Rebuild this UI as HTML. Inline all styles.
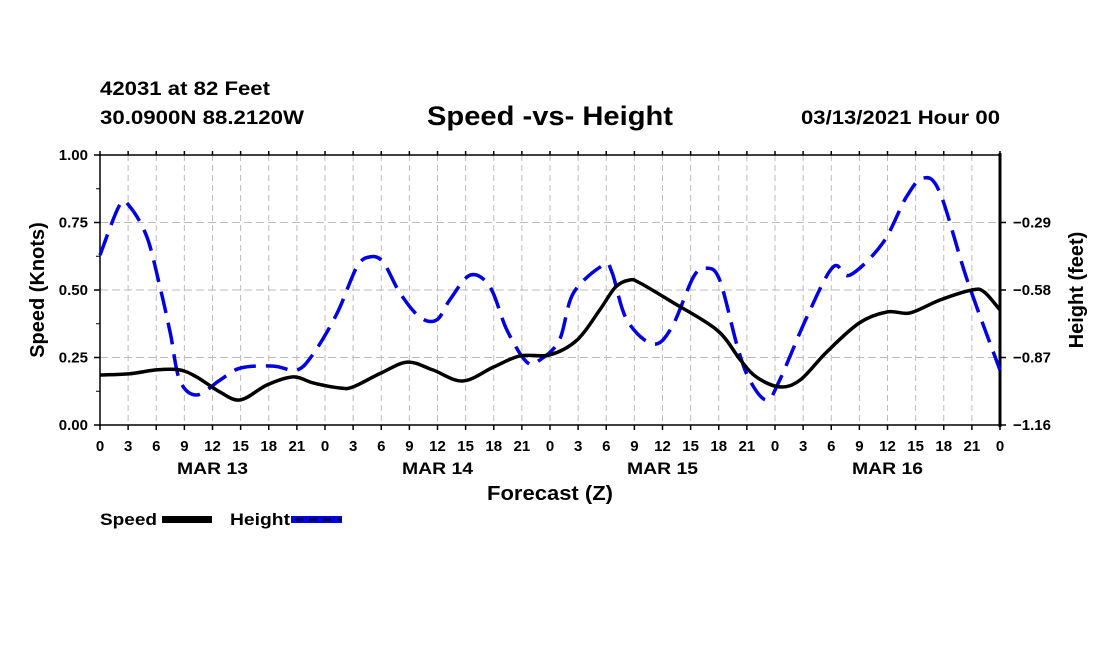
<!DOCTYPE html>
<html><head><meta charset="utf-8"><style>
body{margin:0;background:#fff;}
svg text{font-family:"Liberation Sans",sans-serif;font-weight:bold;fill:#000;}
</style></head><body>
<svg id="chart" width="1100" height="650" viewBox="0 0 1100 650" xmlns="http://www.w3.org/2000/svg">
<rect width="1100" height="650" fill="#fff"/>
<text x="100" y="95" font-size="19" textLength="170" lengthAdjust="spacingAndGlyphs">42031 at 82 Feet</text>
<text x="100" y="124" font-size="19" textLength="204" lengthAdjust="spacingAndGlyphs">30.0900N 88.2120W</text>
<text x="427" y="125" font-size="27" textLength="246" lengthAdjust="spacingAndGlyphs">Speed -vs- Height</text>
<text x="801" y="124" font-size="19" textLength="199" lengthAdjust="spacingAndGlyphs">03/13/2021 Hour 00</text>
<g id="grid"></g>
<g id="axes"></g>
<g id="series"></g>
<text x="487" y="500" font-size="20" textLength="126" lengthAdjust="spacingAndGlyphs">Forecast (Z)</text>
<text transform="translate(44,290) rotate(-90)" font-size="20" text-anchor="middle">Speed (Knots)</text>
<text transform="translate(1083,290) rotate(-90)" font-size="20" text-anchor="middle">Height (feet)</text>
<g>
<text x="100" y="525" font-size="17" textLength="57" lengthAdjust="spacingAndGlyphs">Speed</text>
<rect x="162" y="516" width="50" height="7" fill="#000"/>
<text x="230" y="525" font-size="17" textLength="60" lengthAdjust="spacingAndGlyphs">Height</text>
<rect x="291" y="516" width="51" height="7" fill="#0000e0"/>
<line x1="291" y1="519.5" x2="342" y2="519.5" stroke="#000" stroke-width="2" stroke-dasharray="8,6" stroke-dashoffset="-4"/>
</g>
</svg>
<script>
const speedHours=[0,3.2,6,8.5,10.3,12.8,15,17.8,20.6,22.8,25.6,27,30,32.8,35.5,38.7,42,44.8,48,50.9,53.3,55,56.5,57.6,61,65.8,68.3,70,72.5,74.7,77.5,81,84,86.4,89.6,93,94.3,96];
const speedValues=[0.185,0.19,0.204,0.204,0.178,0.122,0.093,0.148,0.178,0.155,0.137,0.141,0.193,0.233,0.204,0.163,0.215,0.256,0.26,0.315,0.426,0.511,0.537,0.526,0.456,0.352,0.241,0.178,0.141,0.167,0.27,0.378,0.419,0.415,0.463,0.5,0.493,0.426];
const heightHours=[0,2.1,3.2,5,6.4,7.5,8.5,10.3,12.8,15,18.5,21,22.8,25.3,27.4,28.8,30.2,32,34.1,35.9,37.3,39.5,41.6,43.4,45.5,46.9,49,50.5,53.7,54.6,56.2,59,61,63.3,64.7,66.1,68,69.3,71.1,72.5,75.4,78.2,80,83.5,86,87.8,89.6,92.5,96];
const heightValues=[-0.43,-0.215,-0.223,-0.352,-0.567,-0.765,-0.967,-1.031,-0.967,-0.915,-0.907,-0.924,-0.851,-0.679,-0.481,-0.438,-0.46,-0.593,-0.696,-0.709,-0.623,-0.516,-0.567,-0.752,-0.889,-0.881,-0.795,-0.593,-0.473,-0.503,-0.709,-0.812,-0.739,-0.524,-0.486,-0.537,-0.825,-0.967,-1.053,-0.967,-0.696,-0.481,-0.516,-0.378,-0.181,-0.099,-0.163,-0.537,-0.924];
const xTickLabels=["0","3","6","9","12","15","18","21","0","3","6","9","12","15","18","21","0","3","6","9","12","15","18","21","0","3","6","9","12","15","18","21","0"];
const dayLabels=["MAR 13","MAR 14","MAR 15","MAR 16"];
const leftTicks=[0,0.25,0.5,0.75,1.0];
const rightTicks=[-1.16,-0.87,-0.58,-0.29];

const X0=100,X1=1000,YT=155,YB=425;
const xs=h=>X0+(X1-X0)*h/96;
const ysL=v=>YB-(YB-YT)*v/1.0;
const ysR=v=>YB-(YB-YT)*(v+1.16)/1.16;
const NS="http://www.w3.org/2000/svg";
function mk(tag,attrs,parent){const e=document.createElementNS(NS,tag);for(const k in attrs)e.setAttribute(k,attrs[k]);parent.appendChild(e);return e;}
const grid=document.getElementById('grid'),axes=document.getElementById('axes'),series=document.getElementById('series');

xTickLabels.forEach((lab,i)=>{
  const x=xs(i*3);
  if(i>0&&i<32){const l=mk('line',{x1:x,y1:YT,x2:x,y2:YB,stroke:'#bbb','stroke-width':1,'stroke-dasharray':'6,4'},grid);
  
  }
  const t=mk('line',{x1:x,y1:YB,x2:x,y2:YB+5,stroke:'#000','stroke-width':1.5},axes);
  
  
  const t2=mk('line',{x1:x,y1:YT,x2:x,y2:YT-4,stroke:'#000','stroke-width':1.5},axes);
  
  
  const tx=mk('text',{x:x,y:451,'font-size':15,'text-anchor':'middle'},axes);tx.textContent=lab;
  
  
});
dayLabels.forEach((d,i)=>{
  const tx=mk('text',{x:xs(i*24+12)-35.5,y:474,'font-size':17,textLength:71,lengthAdjust:'spacingAndGlyphs'},axes);tx.textContent=d;
  
  
});
leftTicks.forEach(v=>{
  const y=ysL(v);
  if(v>0&&v<1){const l=mk('line',{x1:X0,y1:y,x2:X1,y2:y,stroke:'#bbb','stroke-width':1,'stroke-dasharray':'8,4'},grid);
  
  }
  const t=mk('line',{x1:X0-6,y1:y,x2:X0,y2:y,stroke:'#000','stroke-width':1.5},axes);
  
  
  const tx=mk('text',{x:88,y:y+5,'font-size':15,'text-anchor':'end'},axes);tx.textContent=v.toFixed(2);
  
  
});
for(let i=1;i<8;i+=2){const y=ysL(i*0.125);const t=mk('line',{x1:X0-4,y1:y,x2:X0,y2:y,stroke:'#000','stroke-width':1},axes);
  
  }
rightTicks.forEach(v=>{
  const y=ysR(v);
  const t=mk('line',{x1:X1,y1:y,x2:X1+6,y2:y,stroke:'#000','stroke-width':1.5},axes);
  
  
  const tx=mk('text',{x:1013,y:y+5,'font-size':15},axes);tx.textContent=v.toFixed(2).replace('-','\u2212');
  
  
});
const frame=mk('path',{d:`M${X0},${YT}H${X1}M${X0},${YB}H${X1}M${X0},${YT-1}V${YB+1}`,stroke:'#000','stroke-width':1.5,fill:'none'},axes);


const rAx=mk('line',{x1:X1,y1:YT-2,x2:X1,y2:YB+2,stroke:'#000','stroke-width':3},axes);



function smooth(pts){
  let d=`M${pts[0][0].toFixed(1)},${pts[0][1].toFixed(1)}`;
  for(let i=0;i<pts.length-1;i++){
    const p0=pts[Math.max(0,i-1)],p1=pts[i],p2=pts[i+1],p3=pts[Math.min(pts.length-1,i+2)];
    const c1=[p1[0]+(p2[0]-p0[0])/6,p1[1]+(p2[1]-p0[1])/6],c2=[p2[0]-(p3[0]-p1[0])/6,p2[1]-(p3[1]-p1[1])/6];
    d+=`C${c1[0].toFixed(1)},${c1[1].toFixed(1)} ${c2[0].toFixed(1)},${c2[1].toFixed(1)} ${p2[0].toFixed(1)},${p2[1].toFixed(1)}`;
  }
  return d;
}
const hp=mk('path',{d:smooth(heightHours.map((h,i)=>[xs(h),ysR(heightValues[i])])),stroke:'#0000e0','stroke-width':3.5,fill:'none','stroke-dasharray':'22,10'},series);


const sp=mk('path',{d:smooth(speedHours.map((h,i)=>[xs(h),ysL(speedValues[i])])),stroke:'#000','stroke-width':3.5,fill:'none'},series);


</script>
</body></html>
